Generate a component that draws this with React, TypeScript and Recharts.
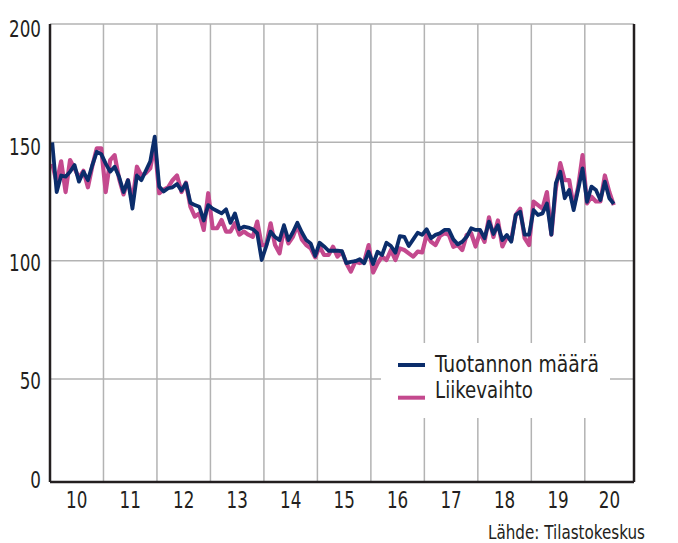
import React from 'react';
import {LineChart, Line, XAxis, YAxis, CartesianGrid} from 'recharts';

// Monthly index 2015=100, Jan 2010 .. Jul 2020
const startYear = 2010;

const tuotanto = [
	150, 129, 136, 135.5, 137.6, 140.4, 133.4, 137.6, 134, 140.4, 146, 145,
	141, 137.6, 139.7, 135.5, 129, 134, 122, 136, 134, 138, 142, 152.4,
	131.3, 129.2, 130.6, 131, 132.4, 129.6, 132.7, 124.5, 123.5, 122.8, 117, 123.5,
	122, 121, 120, 121.7, 116, 120, 113.3, 114.4, 114, 113.3, 111.6, 100.3,
	106, 112.3, 110, 108.7, 115, 108.7, 112, 116, 112, 108.7, 107.3, 102,
	107.6, 106, 104.2, 104.2, 104.2, 104, 99, 99.5, 99.8, 100.6, 98.9, 103.8,
	98.6, 103.8, 102.4, 107.6, 106.2, 103.4, 110.4, 110.1, 106.2, 109, 111.8, 110.9,
	113.3, 109.5, 110.9, 111.6, 113, 113, 109, 106.9, 108, 110.1, 113.7, 113,
	113, 109.5, 116.5, 111.3, 115, 108.7, 110.9, 108, 119.3, 120.7, 111, 111,
	121.4, 119.3, 120, 124.2, 111, 132.7, 137.6, 126.4, 129.9, 121.4, 130, 139,
	124.9, 131.3, 129.9, 125.6, 133.4, 126.4, 124
];

const liikevaihto = [
	141, 133, 142, 129, 142.5, 139, 135, 138, 131, 140, 147.5, 147.5,
	129, 142.5, 144.6, 134.7, 128, 134, 125, 139.7, 136, 137, 139, 149,
	128.5, 130, 131, 134, 136, 129, 133, 122.8, 118.6, 120, 113, 128.5,
	113.7, 113.7, 117.2, 112.3, 112.3, 115.8, 111, 112.3, 111, 110.1, 116.5, 106.6,
	106.6, 115.8, 106.6, 103.1, 113.7, 107.3, 110.1, 115, 109, 106.6, 105.2, 101.4,
	105.9, 102.4, 102.4, 105.9, 101.7, 103.8, 98.9, 95.4, 99.6, 99, 99.6, 106.6,
	95, 98.9, 101.7, 100.3, 104.5, 100.3, 105.2, 104.5, 103.1, 101.7, 103.8, 103.5,
	110.9, 108, 106.6, 110.4, 111.6, 111, 105.9, 106.6, 104.5, 110.9, 111.6, 106,
	112, 108, 118.3, 110, 117, 106, 110, 108.7, 119.3, 122, 109.5, 106.6,
	125, 123.5, 122, 129, 111, 130.6, 141.2, 134, 134, 122.8, 131, 144.6,
	124.2, 127, 125, 125, 136, 129, 123.5
];

const yearBounds = [2011, 2012, 2013, 2014, 2015, 2016, 2017, 2018, 2019, 2020];
const yearLabelPos = [2010.5, 2011.5, 2012.5, 2013.5, 2014.5, 2015.5, 2016.5, 2017.5, 2018.5, 2019.5, 2020.46];
const yearLabels = ['10', '11', '12', '13', '14', '15', '16', '17', '18', '19', '20'];

// bottom of the axis is drawn as "0" (broken axis in the original)
const yBottom = 6.5;
const yTicks = [yBottom, 50, 100, 150, 200];

const BLUE = '#0b2d6b';
const PINK = '#c4498e';
const GRID = '#b3b3b3';
const INK = '#231f20';
const FONT = "'DejaVu Sans Condensed', 'Liberation Sans Narrow', sans-serif";
const SQUEEZE = 0.81;

const data = tuotanto.map((v, i) => ({
	t: startYear + (i + 0.5) / 12,
	tuotanto: v,
	liikevaihto: liikevaihto[i]
}));

const yFmt = (v: number) => (v < 10 ? '0' : String(v));
const xFmt = (v: number) => yearLabels[yearLabelPos.indexOf(v)] ?? '';

// small nudges so the labels sit like in the original
const yNudge: Record<string, number> = {'0': -2, '50': 1.5, '100': 2, '150': 4.3, '200': 4.7};

function XTick({x, y, payload}: any) {
	return (
		<text transform={`translate(${x},${y}) scale(${SQUEEZE},1)`} textAnchor="middle" y={16.5}
			fontSize={23} fontFamily={FONT} fill={INK}>
			{xFmt(payload.value)}
		</text>
	);
}

function YTick({x, y, payload, side}: any) {
	const label = yFmt(payload.value);
	return (
		<text transform={`translate(${x},${y + (yNudge[label] ?? 0)}) scale(${SQUEEZE},1)`}
			textAnchor={side === 'left' ? 'end' : 'start'} y={8.3}
			fontSize={23} fontFamily={FONT} fill={INK}>
			{label}
		</text>
	);
}

export default function App() {
	return (
		<div style={{position: 'absolute', left: 0, top: 0, width: 678, height: 543, background: '#fff'}}>
			<LineChart width={678} height={543} data={data} margin={{top: 24, right: 0, bottom: 31, left: 0}}>
				<CartesianGrid
					stroke={GRID}
					strokeWidth={1.5}
					verticalValues={yearBounds}
					horizontalValues={[50, 100, 150, 200]}
				/>
				<XAxis
					dataKey="t"
					type="number"
					domain={[2010, 2020.92]}
					ticks={yearLabelPos}
					interval={0}
					height={30}
					tickLine={false}
					tickSize={0}
					tickMargin={9}
					axisLine={{stroke: INK, strokeWidth: 2.5}}
					tick={<XTick />}
				/>
				<YAxis
					domain={[yBottom, 200]}
					ticks={yTicks}
					interval={0}
					width={50}
					tickLine={false}
					tickSize={0}
					tickMargin={9}
					axisLine={{stroke: INK, strokeWidth: 2.5}}
					tick={<YTick side="left" />}
				/>
				<YAxis
					yAxisId="r"
					orientation="right"
					domain={[yBottom, 200]}
					ticks={yTicks}
					interval={0}
					width={44}
					tickLine={false}
					tickSize={0}
					tickMargin={9}
					axisLine={{stroke: INK, strokeWidth: 2.5}}
					tick={<YTick side="right" />}
				/>
				<Line
					dataKey="liikevaihto"
					stroke={PINK}
					strokeWidth={4.2}
					dot={false}
					strokeLinejoin="round"
					isAnimationActive={false}
				/>
				<Line
					dataKey="tuotanto"
					stroke={BLUE}
					strokeWidth={3.8}
					dot={false}
					strokeLinejoin="round"
					isAnimationActive={false}
				/>
			</LineChart>
			<svg width={678} height={543} style={{position: 'absolute', left: 0, top: 0, pointerEvents: 'none'}}>
				<g transform="translate(381,343)">
					<rect x={0} y={0} width={229} height={75} fill="#fff" />
					<line x1={17} x2={44} y1={22} y2={22} stroke={BLUE} strokeWidth={4} />
					<text x={54} y={28.7} fontSize={23} fontFamily={FONT} fill={INK}
						textLength={164} lengthAdjust="spacingAndGlyphs">Tuotannon määrä</text>
					<line x1={17} x2={44} y1={54.7} y2={54.7} stroke={PINK} strokeWidth={4} />
					<text x={54} y={55.3} fontSize={23} fontFamily={FONT} fill={INK}
						textLength={98} lengthAdjust="spacingAndGlyphs">Liikevaihto</text>
				</g>
				<text x={488} y={539} fontSize={20} fontFamily={FONT} fill={INK}
					textLength={157} lengthAdjust="spacingAndGlyphs">Lähde: Tilastokeskus</text>
			</svg>
		</div>
	);
}
